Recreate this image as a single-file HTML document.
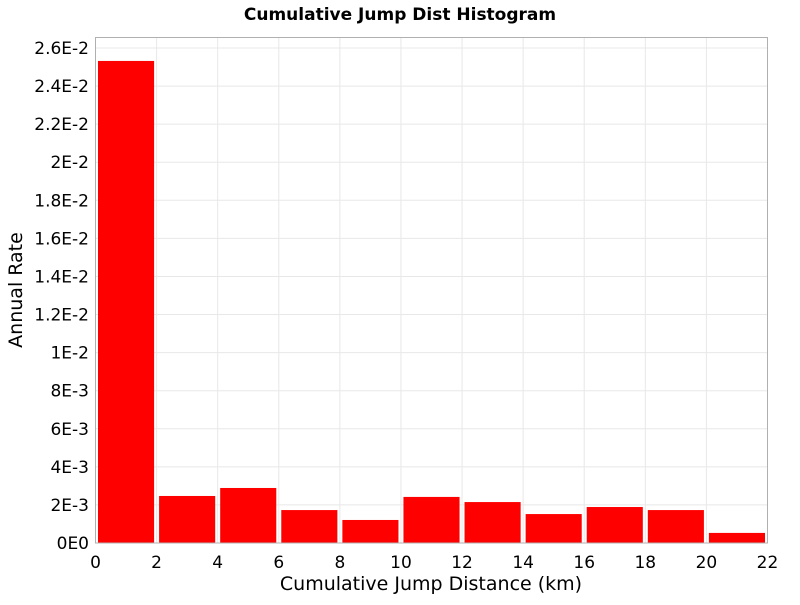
<!DOCTYPE html>
<html><head><meta charset="utf-8"><style>
body{margin:0;background:#fff;width:800px;height:600px;overflow:hidden}
svg text{font-family:"DejaVu Sans","Liberation Sans",sans-serif}
</style></head><body>
<svg id="chart" width="800" height="600">
<text x="400" y="20" text-anchor="middle" font-size="17" font-weight="bold">Cumulative Jump Dist Histogram</text>
<g id="grid"></g>
<g id="bars"></g>
<rect x="95.5" y="37.5" width="672" height="505.5" fill="none" stroke="#b0b0b0"/>
<g id="axes"></g>
<text x="431" y="590" text-anchor="middle" font-size="19">Cumulative Jump Distance (km)</text>
<text transform="translate(22,290) rotate(-90)" text-anchor="middle" font-size="19">Annual Rate</text>
</svg>
<script>
const binStarts=[0,2,4,6,8,10,12,14,16,18,20];
const binWidth=2;
const rates=[0.02532,0.00247,0.00289,0.00173,0.00121,0.00242,0.00215,0.00152,0.00189,0.00173,0.00053];
const xTicks=[0,2,4,6,8,10,12,14,16,18,20,22];
const yTicks=[0,0.002,0.004,0.006,0.008,0.010,0.012,0.014,0.016,0.018,0.020,0.022,0.024,0.026];
const yTickLabels=["0E0","2E-3","4E-3","6E-3","8E-3","1E-2","1.2E-2","1.4E-2","1.6E-2","1.8E-2","2E-2","2.2E-2","2.4E-2","2.6E-2"];
const NS="http://www.w3.org/2000/svg";
const X0=95.5,X1=767.5,Y0=543,Y1=48;
function xs(v){return X0+(v-0)/(22-0)*(X1-X0);}
function ys(v){return Y0-(v/0.026)*(Y0-Y1);}
function mk(t,a){const e=document.createElementNS(NS,t);for(const k in a)e.setAttribute(k,a[k]);return e;}
const grid=document.getElementById('grid'),bars=document.getElementById('bars'),axes=document.getElementById('axes');
xTicks.forEach(v=>{
 const l=mk('line',{x1:xs(v),x2:xs(v),y1:37.5,y2:543,stroke:'#e8e8e8'});
 
 
 grid.appendChild(l);
 const t=mk('text',{x:xs(v),y:568,'text-anchor':'middle','font-size':'17'});
 t.textContent=v;
 
 
 axes.appendChild(t);
});
yTicks.forEach((v,i)=>{
 const l=mk('line',{x1:95.5,x2:767.5,y1:ys(v),y2:ys(v),stroke:'#e8e8e8'});
 
 
 grid.appendChild(l);
 const t=mk('text',{x:89,y:ys(v)+6,'text-anchor':'end','font-size':'17'});
 t.textContent=yTickLabels[i];
 
 
 axes.appendChild(t);
});
binStarts.forEach((s,i)=>{
 const xa=xs(s)+2.5,xb=xs(s+binWidth)-2.5;
 const r=mk('rect',{x:xa,y:ys(rates[i]),width:xb-xa,height:Y0-ys(rates[i]),fill:'#ff0000'});
 
 
 bars.appendChild(r);
});
</script>
</body></html>
